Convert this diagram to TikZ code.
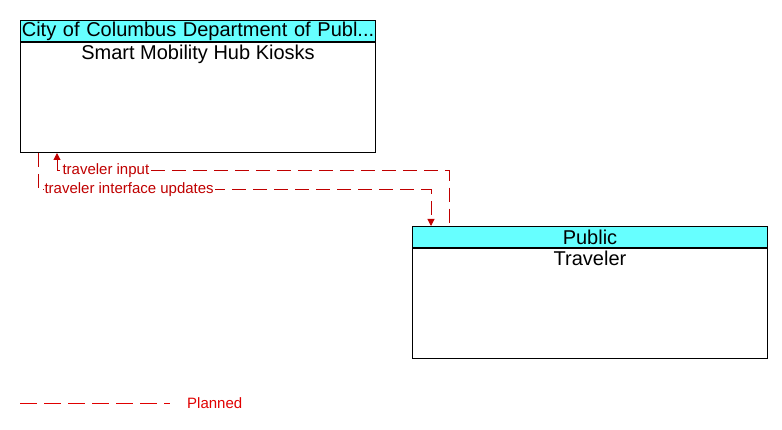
\documentclass[tikz,border=0pt]{standalone}
\usepackage{fontspec}
\setmainfont{Liberation Sans}
\usetikzlibrary{arrows.meta, positioning}
\definecolor{Cian}{RGB}{102, 255, 255}
\definecolor{Rojo}{RGB}{192, 0, 0}
\definecolor{RojoVivo}{RGB}{224, 0, 0}

\begin{document}
\begin{tikzpicture}[
        header/.style={rectangle, draw=black, fill=Cian, line width=1pt, minimum width=355pt, minimum height=21pt, inner sep=0pt, text width=353pt, align=center, font=\fontsize{20}{21}\selectfont},
        body/.style={rectangle, draw=black, fill=white, line width=1pt, minimum width=355pt, minimum height=110pt, inner sep=0pt},
        title/.style={anchor=north, inner sep=1pt, yshift=-2pt, font=\fontsize{20}{21}\selectfont},
        flow/.style={draw=Rojo, line width=1pt, dash pattern=on 14pt off 7pt},
        flowlabel/.style={anchor=west, fill=white, inner sep=1pt, text=Rojo, font=\fontsize{15}{16}\selectfont},
        >={Triangle[width=7pt, length=7pt]}
    ]
        \useasboundingbox (0,0) rectangle (782pt,429pt);

        % Bloque superior: quioscos
        \node[header, anchor=north west] (kioskhead) at (20pt,409pt) {City of Columbus Department of Publ...};
        \node[body, below=0pt of kioskhead] (kiosk) {};
        \node[title] (kioskname) at (kiosk.north) {Smart Mobility Hub Kiosks};

        % Bloque inferior: viajero
        \node[header, anchor=north west] (pubhead) at (412pt,203pt) {Public};
        \node[body, below=0pt of pubhead] (pub) {};
        \node[title] (pubname) at (pub.north) {Traveler};

        % Flujos planificados
        \draw[flow, <-] ([xshift=37pt]kiosk.south west) -- ++(0,-18pt) node[flowlabel, xshift=4pt] {traveler input} -| ([xshift=37pt]pubhead.north west);
        \draw[flow, ->] ([xshift=18pt]kiosk.south west) -- ++(0,-37pt) node[flowlabel, xshift=5pt] {traveler interface updates} -| ([xshift=19pt]pubhead.north west);

        % Leyenda
        \coordinate (legstart) at (20pt,26pt);
        \node[flowlabel, fill=none, text=RojoVivo] (planned) at (186pt,26pt) {Planned};
        \draw[flow, draw=RojoVivo, dash pattern=on 17pt off 7pt] (legstart) -- ([xshift=-16pt]planned.west);
    \end{tikzpicture}
\end{document}
